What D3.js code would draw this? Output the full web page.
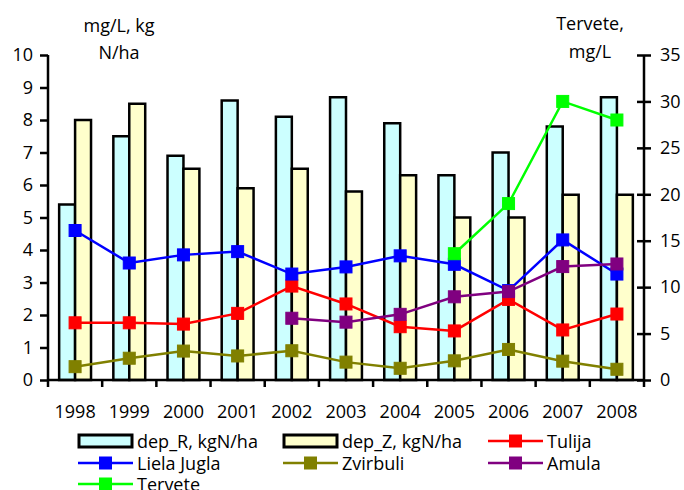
<!DOCTYPE html>
<html><head><meta charset="utf-8">
<script src="https://cdn.jsdelivr.net/npm/d3@7"></script>
<style>body{margin:0;background:#fff}svg{display:block}text{font-family:"Open Sans",sans-serif;font-size:18px;fill:#000}</style>
</head><body><svg id="c" width="684" height="490"></svg>
<script>
const years = ["1998","1999","2000","2001","2002","2003","2004","2005","2006","2007","2008"];
const depR = [5.4,7.5,6.9,8.6,8.1,8.7,7.9,6.3,7.0,7.8,8.7];
const depZ = [8.0,8.5,6.5,5.9,6.5,5.8,6.3,5.0,5.0,5.7,5.7];
const tulija = [1.76,1.76,1.72,2.05,2.89,2.34,1.64,1.51,2.48,1.54,2.03];
const lielaJugla = [4.6,3.6,3.85,3.95,3.26,3.48,3.82,3.56,2.75,4.31,3.26];
const zvirbuli = [0.41,0.67,0.89,0.74,0.90,0.55,0.36,0.59,0.94,0.58,0.33];
const amula = [null,null,null,null,1.90,1.78,2.02,2.56,2.72,3.49,3.57];
const tervete = [null,null,null,null,null,null,null,13.6,19.0,30.0,28.0];
const leftTicks = [0,1,2,3,4,5,6,7,8,9,10];
const rightTicks = [0,5,10,15,20,25,30,35];

const svg = d3.select("#c");
const x0 = 48, x1 = 644, yTop = 55, yBot = 380;
const x = d3.scaleBand().domain(years).range([x0, x1]);
const xi = d3.scaleBand().domain(["R","Z"]).range([0, x.bandwidth()]).paddingOuter(0.7).paddingInner(0);
const yL = d3.scaleLinear().domain([0,10]).range([yBot, yTop]);
const yR = d3.scaleLinear().domain([0,35]).range([yBot, yTop]);

// bars
const bars = [{k:"R", v:depR, fill:"#CCFFFF"},{k:"Z", v:depZ, fill:"#FFFFCC"}];
bars.forEach(b => {
  svg.append("g").selectAll("rect").data(years).join("rect")
    .attr("x", (d,i) => x(d) + xi(b.k))
    .attr("y", (d,i) => yL(b.v[i]))
    .attr("width", xi.bandwidth())
    .attr("height", (d,i) => yBot - yL(b.v[i]))
    .attr("fill", b.fill).attr("stroke", "#000").attr("stroke-width", 2.5);
});

// lines
const series = [
  {name:"Tulija", v:tulija, color:"#FF0000", y:yL},
  {name:"Liela Jugla", v:lielaJugla, color:"#0000FF", y:yL},
  {name:"Zvirbuli", v:zvirbuli, color:"#808000", y:yL},
  {name:"Amula", v:amula, color:"#800080", y:yL},
  {name:"Tervete", v:tervete, color:"#00FF00", y:yR}
];
const cx = d => x(d) + x.bandwidth()/2;
series.forEach(s => {
  const pts = years.map((d,i) => ({d, v:s.v[i]})).filter(p => p.v != null);
  const line = d3.line().x(p => cx(p.d)).y(p => s.y(p.v));
  svg.append("path").attr("d", line(pts)).attr("fill","none").attr("stroke", s.color).attr("stroke-width", 2.5);
  svg.append("g").selectAll("rect").data(pts).join("rect")
    .attr("x", p => cx(p.d) - 6).attr("y", p => s.y(p.v) - 6)
    .attr("width", 12).attr("height", 12)
    .attr("fill", s.color).attr("stroke", s.color).attr("stroke-width", 1);
});

// axes
const gL = svg.append("g").attr("transform", `translate(${x0},0)`)
  .call(d3.axisLeft(yL).tickValues(leftTicks).tickSize(8).tickPadding(7).tickFormat(d3.format("d")));
const gR = svg.append("g").attr("transform", `translate(${x1},0)`)
  .call(d3.axisRight(yR).tickValues(rightTicks).tickSize(7).tickPadding(9).tickFormat(d3.format("d")));
gR.selectAll(".tick line").attr("x1", -7);
const gB = svg.append("g").attr("transform", `translate(0,${yBot})`)
  .call(d3.axisBottom(x).tickSize(0).tickPadding(25));
// category boundary ticks
svg.append("g").selectAll("line").data(years.concat(["end"])).join("line")
  .attr("x1", (d,i) => i < years.length ? x(d) : x1)
  .attr("x2", (d,i) => i < years.length ? x(d) : x1)
  .attr("y1", yBot).attr("y2", yBot + 7)
  .attr("stroke","#000").attr("stroke-width",2.5);
[gL,gR,gB].forEach(g => {
  g.select(".domain").attr("stroke","#000").attr("stroke-width",2.5);
  g.selectAll(".tick line").attr("stroke","#000").attr("stroke-width",2.5);
  g.selectAll("text").style("font-family","Open Sans").style("font-size","18px").attr("fill","#000");
});
gL.select(".domain").attr("d", `M0,${yTop}V${yBot}`);
gR.select(".domain").attr("d", `M0,${yTop}V${yBot}`);
gB.select(".domain").attr("d", `M${x0},0H${x1}`);

// axis titles
svg.append("text").attr("x",119).attr("y",32).attr("text-anchor","middle").text("mg/L, kg");
svg.append("text").attr("x",119).attr("y",59).attr("text-anchor","middle").text("N/ha");
svg.append("text").attr("x",590).attr("y",30).attr("text-anchor","middle").text("Tervete,");
svg.append("text").attr("x",590).attr("y",58).attr("text-anchor","middle").text("mg/L");

// legend
const legend = [
  {name:"dep_R, kgN/ha", type:"bar", fill:"#CCFFFF"},
  {name:"dep_Z, kgN/ha", type:"bar", fill:"#FFFFCC"}
].concat(series.map(s => ({name:s.name, type:"line", color:s.color})));
const colX = [78, 283, 488], rowY = [441, 463, 484];
legend.forEach((l,i) => {
  const lx = colX[i % 3], ly = rowY[Math.floor(i/3)];
  const g = svg.append("g").attr("transform", `translate(${lx},${ly})`);
  if (l.type === "bar") {
    g.append("rect").attr("x",1).attr("y",-6).attr("width",53).attr("height",12)
      .attr("fill", l.fill).attr("stroke","#000").attr("stroke-width",3);
  } else {
    g.append("line").attr("x1",0).attr("x2",55).attr("y1",0).attr("y2",0).attr("stroke", l.color).attr("stroke-width",2.5);
    g.append("rect").attr("x",21).attr("y",-6.5).attr("width",13).attr("height",13).attr("fill", l.color);
  }
  g.append("text").attr("x",59).attr("y",6.5).text(l.name);
});
</script></body></html>
